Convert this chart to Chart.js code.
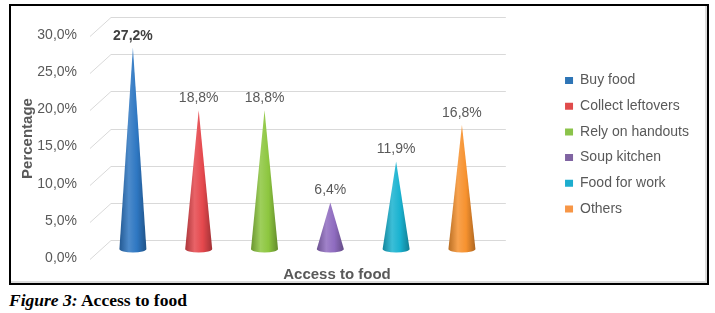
<!DOCTYPE html>
<html>
<head>
<meta charset="utf-8">
<script src="https://cdn.jsdelivr.net/npm/chart.js@4.4.1/dist/chart.umd.min.js"></script>
<style>
  html, body { margin: 0; padding: 0; background: #fff; }
  #frame {
    position: absolute; left: 9px; top: 4px;
    width: 696px; height: 277px;
    border: 2px solid #000;
    box-shadow: inset -2px -2px 0 #dcdcdc;
  }
  #caption {
    position: absolute; left: 9px; top: 290px;
    font-family: "Liberation Serif", "Times New Roman", serif;
    font-weight: bold; font-size: 17.5px; line-height: 20px;
    color: #000; white-space: nowrap;
  }
</style>
</head>
<body>
<div id="frame"><canvas id="chart" width="696" height="277"></canvas></div>
<div id="caption"><i>Figure 3:</i> Access to food</div>
<script>
const categories = ["Buy food", "Collect leftovers", "Rely on handouts", "Soup kitchen", "Food for work", "Others"];
const percentages = [27.2, 18.8, 18.8, 6.4, 11.9, 16.8];
const yAxisTitle = "Percentage";
const xAxisTitle = "Access to food";

const coneColors = ["#2E77C2", "#E5484D", "#8DC63F", "#8F6CC0", "#19B2D0", "#F7922F"];
const legendColors = ["#2E75B6", "#E04B4B", "#8BC34A", "#8064A2", "#1CADCE", "#F79646"];

const fmt = (v) => v.toFixed(1).replace(".", ",") + "%";

// mix a hex colour with white (amt > 0) or black (amt < 0)
function shade(hex, amt) {
  const n = parseInt(hex.slice(1), 16);
  let r = n >> 16, g = (n >> 8) & 255, b = n & 255;
  const t = amt > 0 ? 255 : 0, p = Math.abs(amt);
  r = Math.round(r + (t - r) * p);
  g = Math.round(g + (t - g) * p);
  b = Math.round(b + (t - b) * p);
  return `rgb(${r},${g},${b})`;
}

// light grey "3D" floor grid: diagonal + back line for each tick
const gridPlugin = {
  id: "grid3d",
  beforeDatasetsDraw(chart) {
    const { ctx, chartArea } = chart;
    const ys = chart.scales.y;
    ctx.save();
    ctx.strokeStyle = "#d9d9d9";
    ctx.lineWidth = 1;
    ys.ticks.forEach((t) => {
      const py = Math.round(ys.getPixelForValue(t.value));
      ctx.beginPath();
      ctx.moveTo(chartArea.left - 10, py + 9.5);
      ctx.lineTo(chartArea.left + 11, py - 9.5);
      ctx.lineTo(chartArea.right + 11, py - 9.5);
      ctx.stroke();
    });
    ctx.restore();
  },
};

// draw each bar as a shaded cone + value label
const conePlugin = {
  id: "cones",
  afterDatasetsDraw(chart) {
    const { ctx } = chart;
    const meta = chart.getDatasetMeta(0);
    ctx.save();
    meta.data.forEach((bar, i) => {
      const { x, y, base, width } = bar.getProps(["x", "y", "base", "width"], true);
      const hw = width / 2;
      const by = base - 1;
      const c = coneColors[i];
      const g = ctx.createLinearGradient(x - hw, 0, x + hw, 0);
      g.addColorStop(0, shade(c, -0.25));
      g.addColorStop(0.35, shade(c, 0.15));
      g.addColorStop(0.65, c);
      g.addColorStop(1, shade(c, -0.3));
      ctx.fillStyle = g;
      ctx.beginPath();
      ctx.moveTo(x, y);
      ctx.lineTo(x + hw, by);
      ctx.ellipse(x, by, hw, 3.5, 0, 0, Math.PI);
      ctx.closePath();
      ctx.fill();

      ctx.font = (i === 0 ? "bold " : "") + "14px 'Liberation Sans', Arial, sans-serif";
      ctx.fillStyle = i === 0 ? "#404040" : "#595959";
      ctx.textAlign = "center";
      ctx.textBaseline = "middle";
      ctx.fillText(fmt(percentages[i]), x, y - 12);
    });
    ctx.restore();
  },
};

const xTitlePlugin = {
  id: "xTitle",
  afterDraw(chart) {
    const { ctx, chartArea } = chart;
    ctx.save();
    ctx.font = "bold 15px 'Liberation Sans', Arial, sans-serif";
    ctx.fillStyle = "#595959";
    ctx.textAlign = "center";
    ctx.textBaseline = "middle";
    ctx.fillText(xAxisTitle, chartArea.left + 237, chartArea.bottom + 25);
    ctx.restore();
  },
};

Chart.defaults.font.family = "'Liberation Sans', Arial, sans-serif";
Chart.defaults.color = "#595959";

new Chart(document.getElementById("chart"), {
  type: "bar",
  data: {
    labels: categories,
    datasets: [
      {
        data: percentages,
        backgroundColor: "rgba(0,0,0,0)",
        borderWidth: 0,
        barPercentage: 0.41,
        categoryPercentage: 1,
      },
    ],
  },
  options: {
    responsive: false,
    animation: false,
    layout: { padding: { top: 21, bottom: 20.5, left: 0, right: 8 } },
    scales: {
      x: {
        ticks: { display: false },
        grid: { display: false },
        border: { display: false },
        afterFit: (s) => { s.height = 12.5; },
      },
      y: {
        min: 0,
        max: 30,
        ticks: {
          stepSize: 5,
          padding: 23,
          labelOffset: 8,
          color: "#595959",
          font: { size: 14 },
          callback: (v) => fmt(v),
        },
        grid: { display: false, drawTicks: false },
        border: { display: false },
        title: {
          display: true,
          text: yAxisTitle,
          color: "#595959",
          font: { size: 15, weight: "bold" },
          padding: { top: 8, bottom: 0 },
        },
        afterFit: (s) => {
          s.width = 89;
          s.paddingTop = 0;
          s.paddingBottom = 0;
        },
      },
      // empty spacer between plot and legend
      gap: {
        display: false,
        position: "right",
        afterFit: (s) => { s.width = 58.5; },
      },
    },
    plugins: {
      tooltip: { enabled: false },
      legend: {
        position: "right",
        onClick: null,
        labels: {
          boxWidth: 8,
          boxHeight: 7,
          padding: 11.7,
          color: "#595959",
          font: { size: 14 },
          generateLabels: (chart) =>
            chart.data.labels.map((label, i) => ({
              text: label,
              fillStyle: legendColors[i],
              strokeStyle: legendColors[i],
              lineWidth: 0,
              hidden: false,
              index: i,
              fontColor: "#595959",
            })),
        },
      },
    },
  },
  plugins: [gridPlugin, conePlugin, xTitlePlugin],
});
</script>
</body>
</html>
